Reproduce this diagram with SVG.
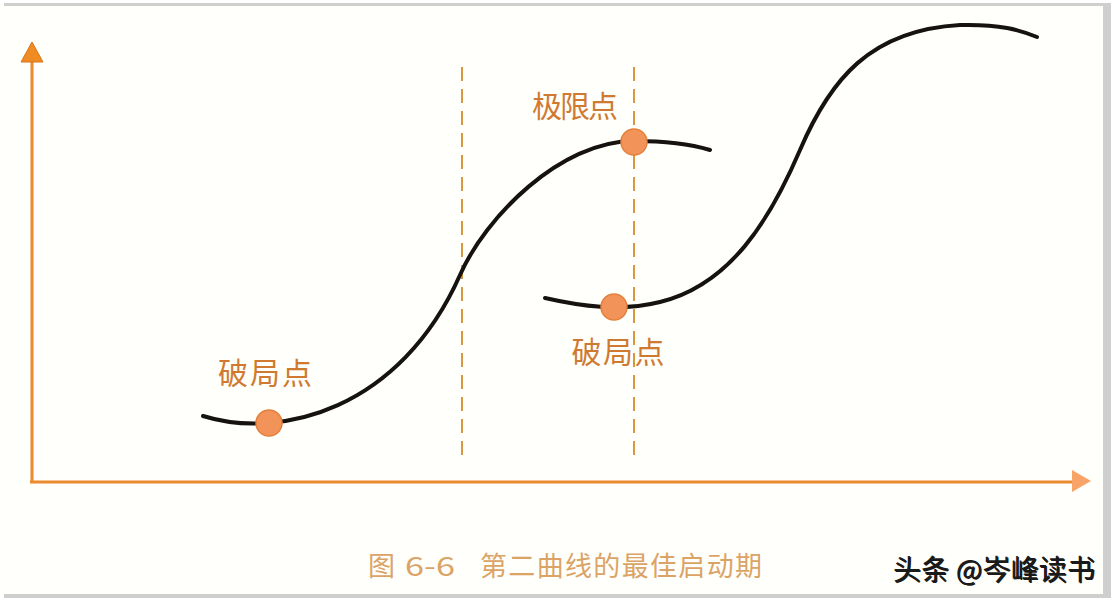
<svg xmlns="http://www.w3.org/2000/svg" width="1113" height="602" viewBox="0 0 1113 602">
  <defs>
    <style>
      .axis { stroke: #ec8a2e; stroke-width: 3; fill: none; }
      .guide { stroke: #d9983e; stroke-width: 2; stroke-dasharray: 14 8; fill: none; }
      .curve { stroke: #151210; stroke-width: 4; fill: none; stroke-linecap: round; }
      .dot { fill: #f2935a; stroke: #e4803c; stroke-width: 1.5; }
      .lbl { font-family: "Noto Sans CJK SC", "Liberation Sans", sans-serif; font-size: 30px; fill: #cf7a30; }
      .cap { font-family: "Noto Sans CJK SC", "Liberation Sans", sans-serif; font-size: 27px; fill: #dba466; }
      .wm { font-family: "Noto Sans CJK SC", "Liberation Sans", sans-serif; font-size: 28px; fill: #1a1a1a; }
    </style>
  </defs>
  <rect x="0" y="0" width="1113" height="602" fill="#ffffff"/>
  <rect x="4" y="3" width="1107" height="595" fill="#cfcfcf"/>
  <rect x="2" y="6" width="1101" height="588" fill="#fffffc"/>

  <g id="axes">
    <line class="axis" x1="32" y1="482" x2="32" y2="58"/>
    <polygon points="32,42 21,62 43,62" fill="#f08a22" stroke="#d8741a" stroke-width="1"/>
    <line class="axis" x1="30" y1="482" x2="1074" y2="482" stroke="#ef9450"/>
    <polygon points="1091,481 1072,470 1072,492" fill="#f8a468"/>
  </g>

  <g id="connectors">
    <line class="guide" x1="462" y1="67" x2="462" y2="458"/>
    <line class="guide" x1="634" y1="67" x2="634" y2="458"/>
  </g>

  <g id="curve1">
    <path class="curve" d="M203,416 C280,440 400,410 460,275 C485,218 560,141 634,141 C660,141 690,144 710,150"/>
  </g>
  <g id="curve2">
    <path class="curve" d="M545,298 C580,306 620,312 660,302 C730,285 770,220 800,150 C830,80 870,30 960,25 C1000,24 1020,30 1037,37"/>
  </g>

  <g id="node-breakpoint1">
    <circle class="dot" cx="269" cy="423" r="13"/>
    <text class="lbl" x="265" y="384" text-anchor="middle" textLength="94" lengthAdjust="spacing">破局点</text>
  </g>
  <g id="node-limit">
    <circle class="dot" cx="634" cy="142" r="13"/>
    <text class="lbl" x="575" y="117" text-anchor="middle" textLength="86" lengthAdjust="spacing">极限点</text>
  </g>
  <g id="node-breakpoint2">
    <circle class="dot" cx="614" cy="307" r="13"/>
    <text class="lbl" x="618" y="363" text-anchor="middle" textLength="93" lengthAdjust="spacing">破局点</text>
  </g>

  <g id="caption">
    <text class="cap" x="368" y="576">图</text>
    <text class="cap" x="405" y="576" textLength="50" lengthAdjust="spacingAndGlyphs">6-6</text>
    <text class="cap" x="480" y="576" textLength="282" lengthAdjust="spacing">第二曲线的最佳启动期</text>
  </g>
  <g id="watermark">
    <text class="wm" x="894" y="581" fill="#ffffff" textLength="202" lengthAdjust="spacing">头条 @岑峰读书</text>
    <text class="wm" x="893" y="580" textLength="202" lengthAdjust="spacing">头条 @岑峰读书</text>
  </g>
</svg>
